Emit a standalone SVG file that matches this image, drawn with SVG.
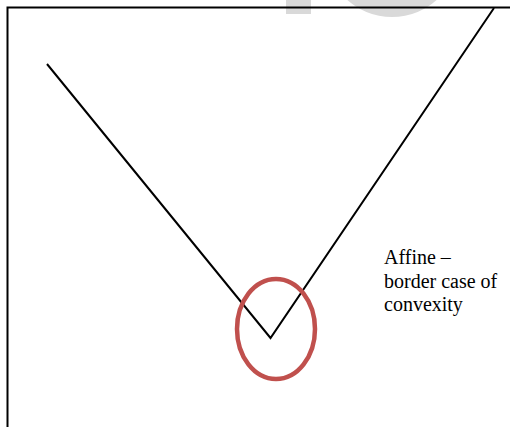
<svg xmlns="http://www.w3.org/2000/svg" width="510" height="427" viewBox="0 0 510 427">
  <style>
    .wm { fill: #d9d9d9; }
    .line { stroke: #000; stroke-width: 2; fill: none; }
    .label { font-family: "Liberation Serif", "Times New Roman", serif; font-size: 20px; fill: #000; }
  </style>
  <rect width="510" height="427" fill="#fff"/>
  <g id="watermark">
    <rect class="wm" x="286" y="0" width="25" height="14"/>
    <circle class="wm" cx="392" cy="-50" r="67"/>
    <circle class="wm" cx="535" cy="-45" r="50"/>
  </g>
  <g id="frame">
    <polyline class="line" points="7.5,427 7.5,7.5 510,7.5"/>
  </g>
  <g id="connectors">
    <polyline class="line" points="47,64 270.5,338 494,8"/>
  </g>
  <g id="highlight">
    <ellipse cx="276" cy="329" rx="39" ry="50" fill="none" stroke="#C0504D" stroke-width="4.5"/>
  </g>
  <g id="label">
    <text class="label" x="384" y="264">Affine –</text>
    <text class="label" x="384" y="287.5">border case of</text>
    <text class="label" x="384" y="311">convexity</text>
  </g>
</svg>
